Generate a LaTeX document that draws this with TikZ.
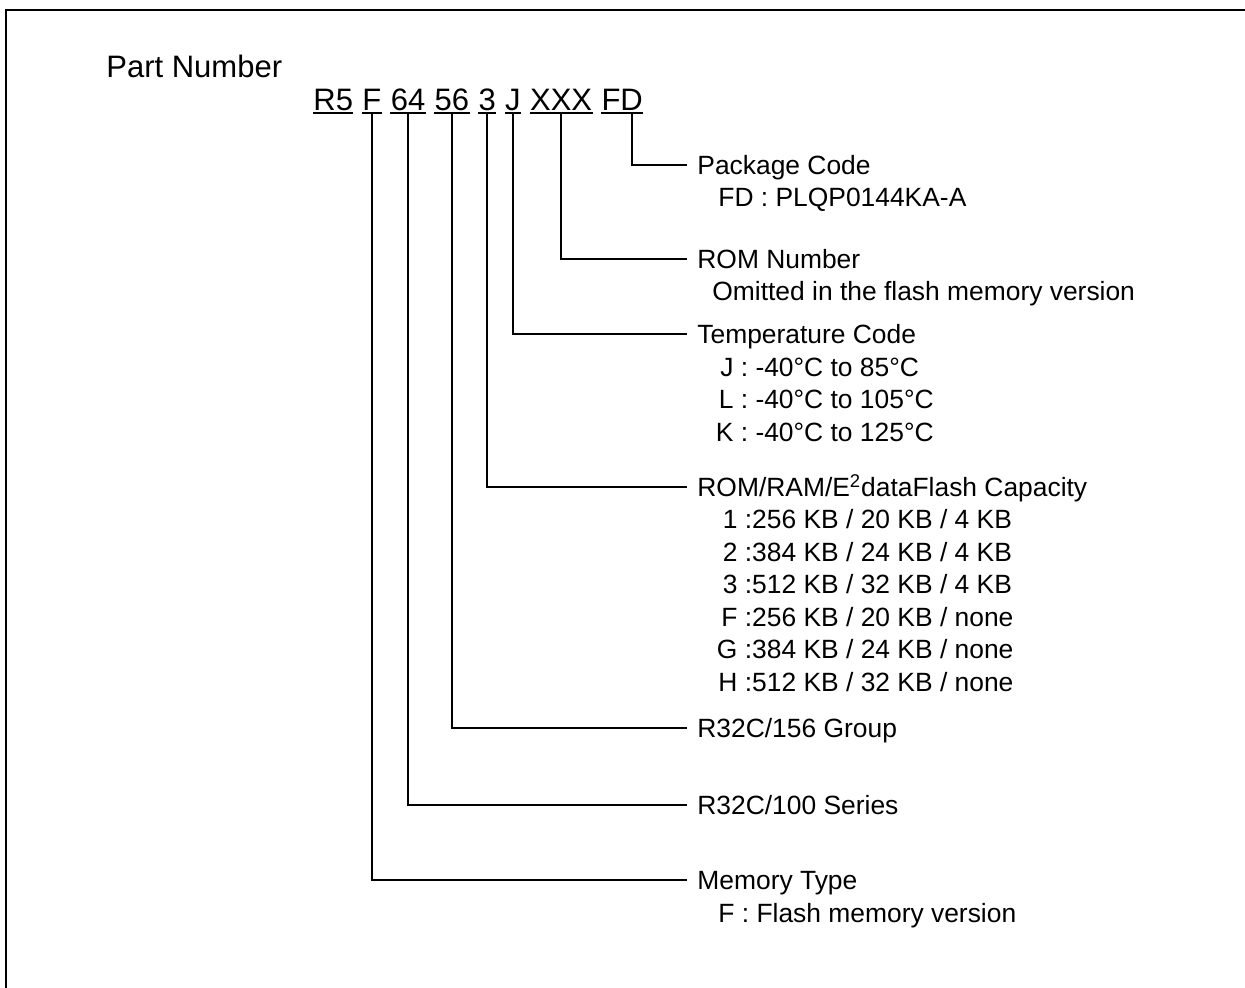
\documentclass[tikz,border=0pt]{standalone}
\usepackage{fontspec}
\setmainfont{Liberation Sans}
\usetikzlibrary{positioning}

% key letter right aligned before the colon
\newcommand{\keyed}[2]{\makebox[0.8em][r]{#1} :#2}

\begin{document}
\begin{tikzpicture}[x=0.5pt, y=-0.5pt,
    conn/.style={line width=1pt},
    seg/.style={inner xsep=0pt, inner ysep=1pt, text height=11.1pt, text depth=0pt,
        font=\fontsize{15.5}{18}\selectfont},
    field/.style={anchor=west, inner xsep=5pt, inner ysep=0pt, text height=9.45pt,
        text depth=0pt, font=\fontsize{13.2}{16}\selectfont},
    sub/.style={anchor=west, inner sep=0pt, text height=9.45pt, text depth=0pt,
        font=\fontsize{13.2}{16}\selectfont}]
    \useasboundingbox (0,0) rectangle (1245,988);
    \draw[line width=1.2pt] (6,10) rectangle (1262,1004);

    \node[anchor=west, inner sep=0pt, text height=11.1pt, text depth=0pt,
        font=\fontsize{15.5}{18}\selectfont] (title) at (106,66) {Part Number};

    % part number fields
    \node[seg, anchor=south west] (r5) at (313,113) {R5};
    \node[seg, right=4.3pt of r5] (mtype) {F};
    \node[seg, right=4.3pt of mtype] (series) {64};
    \node[seg, right=4.3pt of series] (group) {56};
    \node[seg, right=4.3pt of group] (capa) {3};
    \node[seg, right=4.3pt of capa] (temp) {J};
    \node[seg, right=4.3pt of temp] (romno) {XXX};
    \node[seg, right=4.3pt of romno] (pkg) {FD};
    \foreach \s in {r5,mtype,series,group,capa,temp,romno,pkg}
        \draw[conn] (\s.south west) -- (\s.south east);

    % descriptions
    \node[field] (pkgL) at (687,165) {Package Code};
    \node[sub] (pkg1) at (718,197) {FD : PLQP0144KA-A};

    \node[field] (romL) at (687,259) {ROM Number};
    \node[sub] (rom1) at (712,291) {Omitted in the flash memory version};

    \node[field] (tempL) at (687,334) {Temperature Code};
    \node[sub] (temp1) at (712,367) {\keyed{J}{~-40°C to 85°C}};
    \node[sub] (temp2) at (712,399) {\keyed{L}{~-40°C to 105°C}};
    \node[sub] (temp3) at (712,432) {\keyed{K}{~-40°C to 125°C}};

    \node[field] (capL) at (687,487) {ROM/RAM/E\textsuperscript{2}dataFlash Capacity};
    \node[sub] (cap1) at (716,519) {\keyed{1}{256 KB / 20 KB / 4 KB}};
    \node[sub] (cap2) at (716,552) {\keyed{2}{384 KB / 24 KB / 4 KB}};
    \node[sub] (cap3) at (716,584) {\keyed{3}{512 KB / 32 KB / 4 KB}};
    \node[sub] (cap4) at (716,617) {\keyed{F}{256 KB / 20 KB / none}};
    \node[sub] (cap5) at (716,649) {\keyed{G}{384 KB / 24 KB / none}};
    \node[sub] (cap6) at (716,682) {\keyed{H}{512 KB / 32 KB / none}};

    \node[field] (grpL) at (687,728) {R32C/156 Group};
    \node[field] (serL) at (687,805) {R32C/100 Series};

    \node[field] (memL) at (687,880) {Memory Type};
    \node[sub] (mem1) at (718,913) {F : Flash memory version};

    % connectors
    \draw[conn] ([xshift=5pt]pkg.south) |- (pkgL.west);
    \draw[conn] (romno.south) |- (romL.west);
    \draw[conn] (temp.south) |- (tempL.west);
    \draw[conn] (capa.south) |- (capL.west);
    \draw[conn] (group.south) |- (grpL.west);
    \draw[conn] (series.south) |- (serL.west);
    \draw[conn] (mtype.south) |- (memL.west);
\end{tikzpicture}
\end{document}
